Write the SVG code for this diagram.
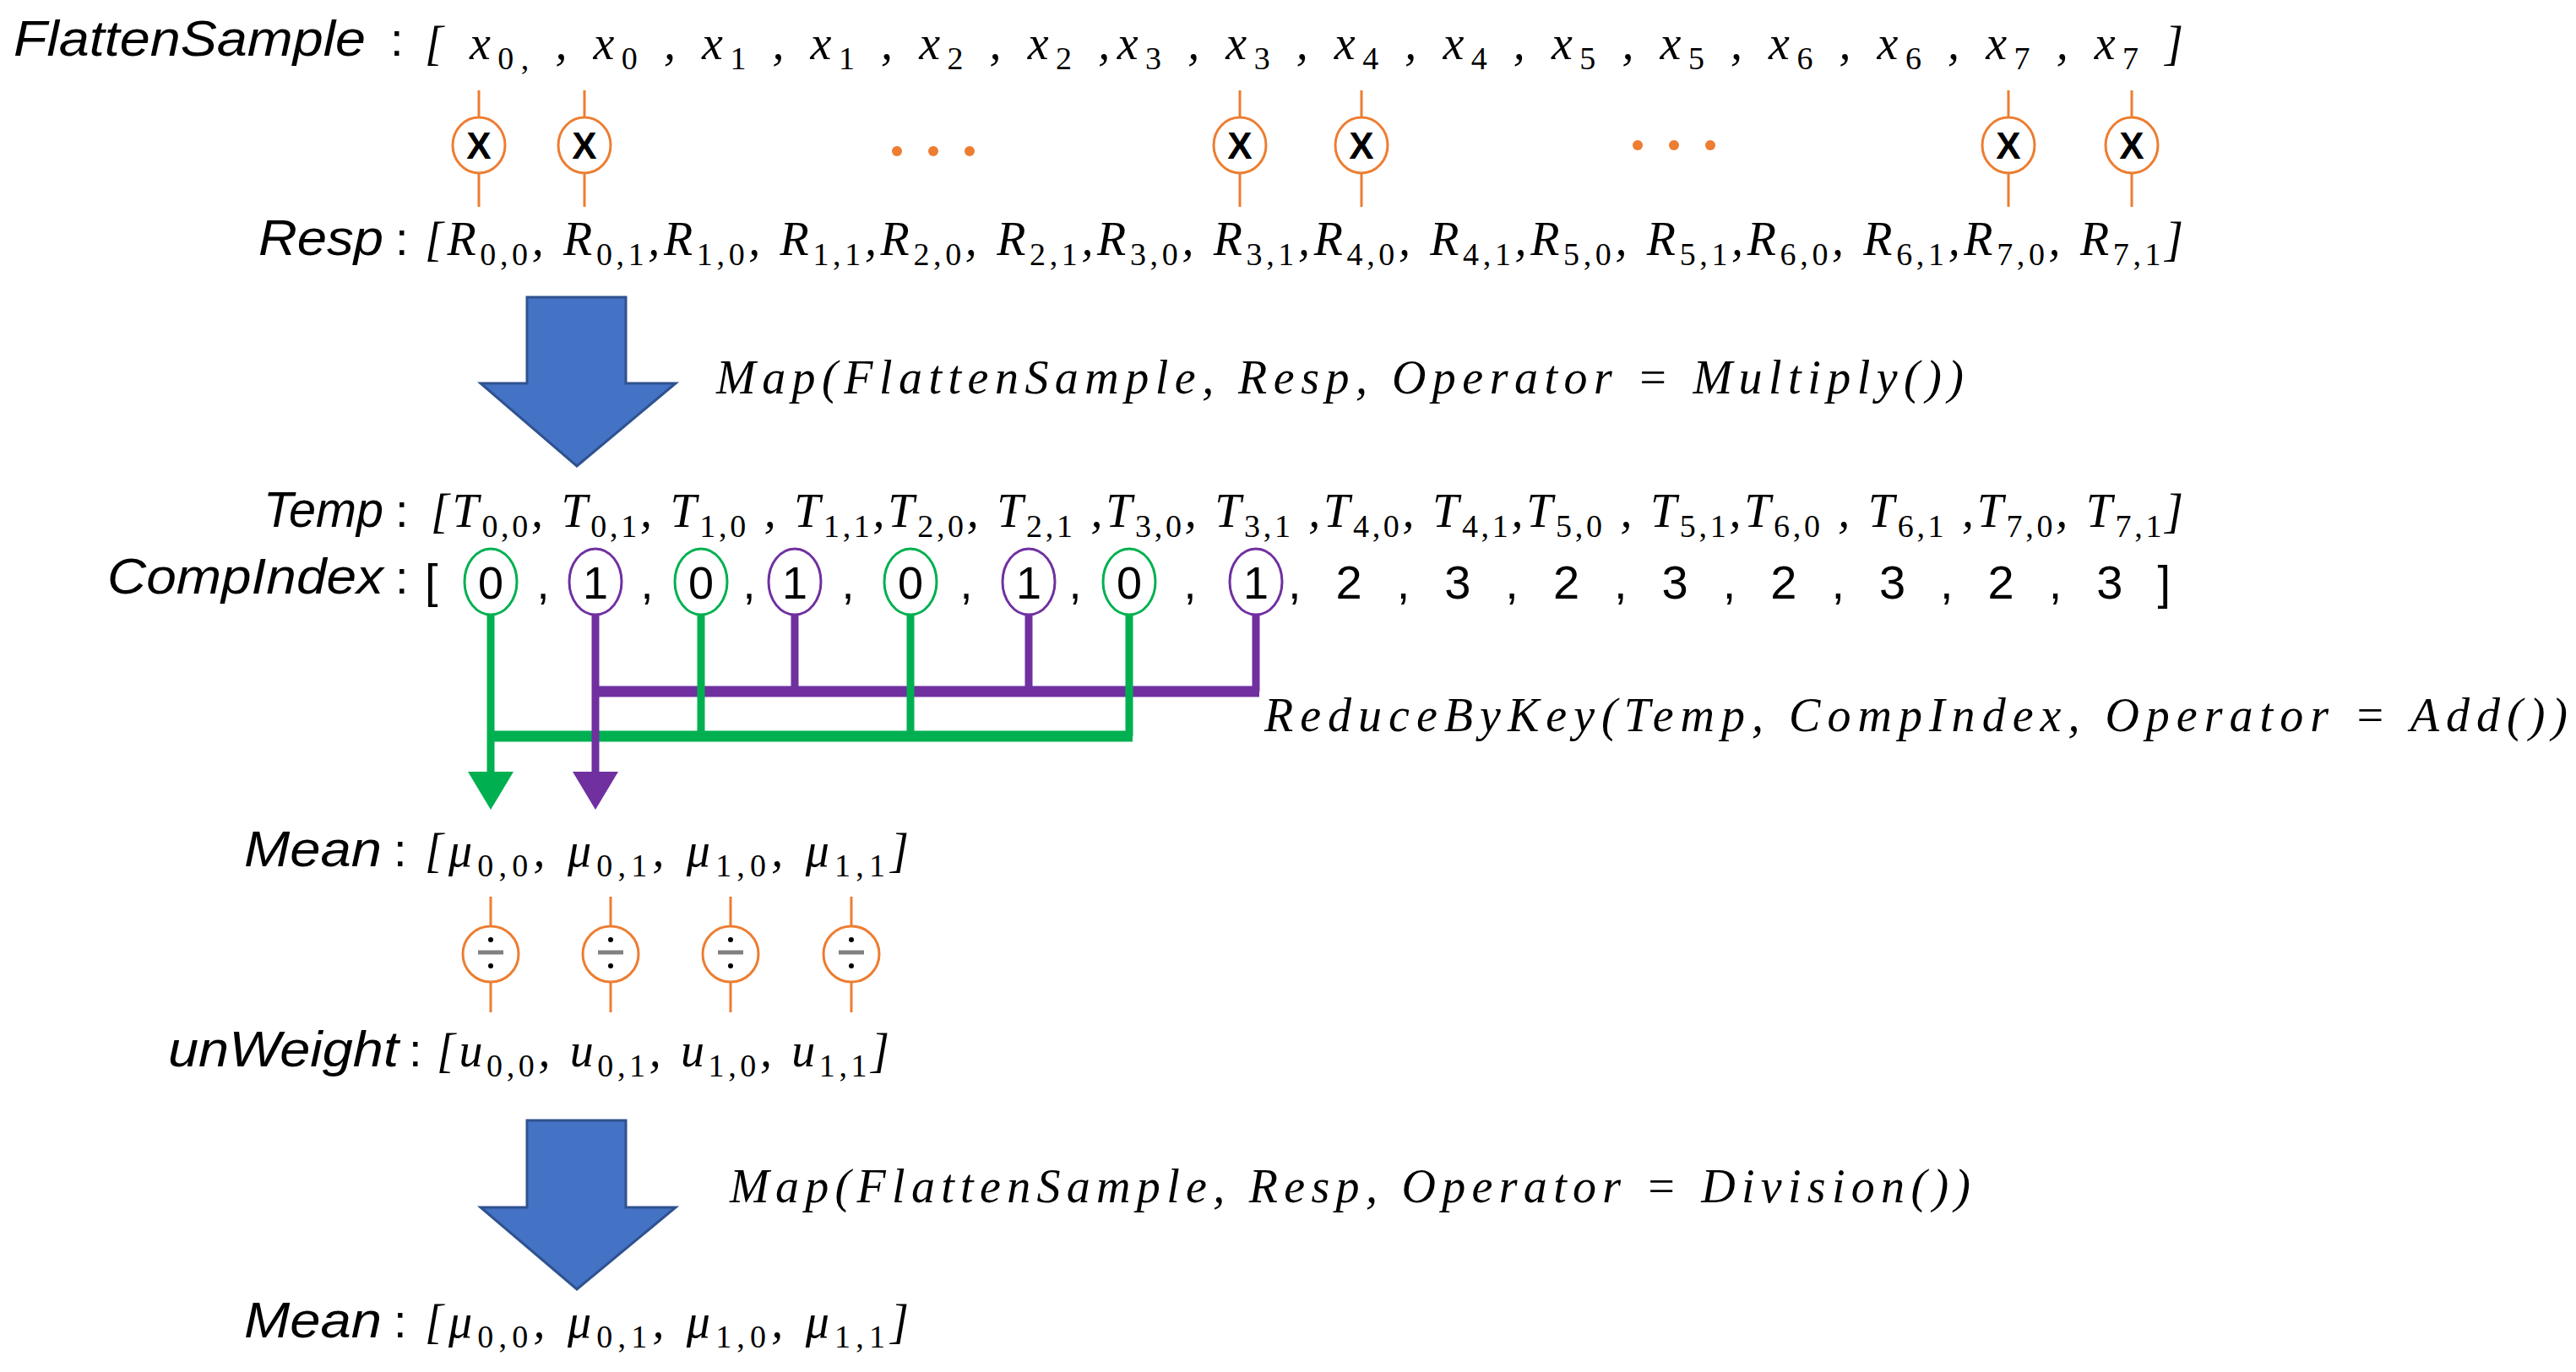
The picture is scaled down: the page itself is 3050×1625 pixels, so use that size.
<svg xmlns="http://www.w3.org/2000/svg" width="3050" height="1625" viewBox="0 0 3050 1625">
<style>
.lab{font-family:"Liberation Sans",Arial,sans-serif;font-style:italic;font-size:60px;fill:#000}
.col{font-family:"Liberation Sans",Arial,sans-serif;font-size:56px;fill:#000}
.m{font-family:"Liberation Serif","DejaVu Serif",serif;font-style:italic;font-size:56px;fill:#000}
.s{font-size:38px;font-style:normal}
.op{fill:#fff;stroke:#ED7D31;stroke-width:3}
.ol{stroke:#ED7D31;stroke-width:3}
.xo{font-family:"Liberation Sans",Arial,sans-serif;font-size:44px;font-weight:bold;text-anchor:middle}
.dig{font-family:"Liberation Sans",Arial,sans-serif;font-size:54px;text-anchor:middle}
.g{fill:none;stroke:#00B050}
.p{fill:none;stroke:#7030A0}
.dot{fill:#ED7D31}
.big{fill:#4472C4;stroke:#2F528F;stroke-width:3}
</style>
<defs>
<marker id="ag" markerWidth="5" markerHeight="6" refX="4" refY="3" orient="auto" markerUnits="strokeWidth"><path d="M0,0 L5,3 L0,6 z" fill="#00B050"/></marker>
<marker id="ap" markerWidth="5" markerHeight="6" refX="4" refY="3" orient="auto" markerUnits="strokeWidth"><path d="M0,0 L5,3 L0,6 z" fill="#7030A0"/></marker>
</defs>

<g id="flatten">
<text class="lab" x="16" y="66" textLength="417" lengthAdjust="spacingAndGlyphs">FlattenSample</text>
<text class="col" x="462" y="66">:</text>
<text class="m" x="503" y="70" textLength="2082" lengthAdjust="spacing">[ x<tspan class="s" dy="12">0,</tspan><tspan dy="-12"> , x</tspan><tspan class="s" dy="12">0</tspan><tspan dy="-12"> , x</tspan><tspan class="s" dy="12">1</tspan><tspan dy="-12"> , x</tspan><tspan class="s" dy="12">1</tspan><tspan dy="-12"> , x</tspan><tspan class="s" dy="12">2</tspan><tspan dy="-12"> , x</tspan><tspan class="s" dy="12">2</tspan><tspan dy="-12"> ,x</tspan><tspan class="s" dy="12">3</tspan><tspan dy="-12"> , x</tspan><tspan class="s" dy="12">3</tspan><tspan dy="-12"> , x</tspan><tspan class="s" dy="12">4</tspan><tspan dy="-12"> , x</tspan><tspan class="s" dy="12">4</tspan><tspan dy="-12"> , x</tspan><tspan class="s" dy="12">5</tspan><tspan dy="-12"> , x</tspan><tspan class="s" dy="12">5</tspan><tspan dy="-12"> , x</tspan><tspan class="s" dy="12">6</tspan><tspan dy="-12"> , x</tspan><tspan class="s" dy="12">6</tspan><tspan dy="-12"> , x</tspan><tspan class="s" dy="12">7</tspan><tspan dy="-12"> , x</tspan><tspan class="s" dy="12">7</tspan><tspan dy="-12"> ]</tspan></text>
</g>

<g id="multiply">
<g class="ol"><line x1="567" y1="107" x2="567" y2="245"/><line x1="692" y1="107" x2="692" y2="245"/><line x1="1468" y1="107" x2="1468" y2="245"/><line x1="1612" y1="107" x2="1612" y2="245"/><line x1="2378" y1="107" x2="2378" y2="245"/><line x1="2524" y1="107" x2="2524" y2="245"/></g>
<ellipse class="op" cx="567" cy="172" rx="31" ry="33"/><ellipse class="op" cx="692" cy="172" rx="31" ry="33"/><ellipse class="op" cx="1468" cy="172" rx="31" ry="33"/><ellipse class="op" cx="1612" cy="172" rx="31" ry="33"/><ellipse class="op" cx="2378" cy="172" rx="31" ry="33"/><ellipse class="op" cx="2524" cy="172" rx="31" ry="33"/>
<text class="xo" x="567" y="188">X</text><text class="xo" x="692" y="188">X</text><text class="xo" x="1468" y="188">X</text><text class="xo" x="1612" y="188">X</text><text class="xo" x="2378" y="188">X</text><text class="xo" x="2524" y="188">X</text>
<circle class="dot" cx="1062" cy="179" r="6"/><circle class="dot" cx="1105" cy="179" r="6"/><circle class="dot" cx="1148" cy="179" r="6"/>
<circle class="dot" cx="1939" cy="172" r="6"/><circle class="dot" cx="1982" cy="172" r="6"/><circle class="dot" cx="2025" cy="172" r="6"/>
</g>

<g id="resp">
<text class="lab" x="306" y="302" textLength="148" lengthAdjust="spacingAndGlyphs">Resp</text>
<text class="col" x="468" y="302">:</text>
<text class="m" x="503" y="302" textLength="2082" lengthAdjust="spacing">[R<tspan class="s" dy="12">0,0</tspan><tspan dy="-12">, R</tspan><tspan class="s" dy="12">0,1</tspan><tspan dy="-12">,R</tspan><tspan class="s" dy="12">1,0</tspan><tspan dy="-12">, R</tspan><tspan class="s" dy="12">1,1</tspan><tspan dy="-12">,R</tspan><tspan class="s" dy="12">2,0</tspan><tspan dy="-12">, R</tspan><tspan class="s" dy="12">2,1</tspan><tspan dy="-12">,R</tspan><tspan class="s" dy="12">3,0</tspan><tspan dy="-12">, R</tspan><tspan class="s" dy="12">3,1</tspan><tspan dy="-12">,R</tspan><tspan class="s" dy="12">4,0</tspan><tspan dy="-12">, R</tspan><tspan class="s" dy="12">4,1</tspan><tspan dy="-12">,R</tspan><tspan class="s" dy="12">5,0</tspan><tspan dy="-12">, R</tspan><tspan class="s" dy="12">5,1</tspan><tspan dy="-12">,R</tspan><tspan class="s" dy="12">6,0</tspan><tspan dy="-12">, R</tspan><tspan class="s" dy="12">6,1</tspan><tspan dy="-12">,R</tspan><tspan class="s" dy="12">7,0</tspan><tspan dy="-12">, R</tspan><tspan class="s" dy="12">7,1</tspan><tspan dy="-12">]</tspan></text>
</g>

<g id="map1">
<path class="big" d="M624,352 H741 V454 H800 L683,552 L569,454 H624 Z"/>
<text class="m" x="848" y="466" textLength="1477" lengthAdjust="spacing">Map(FlattenSample, Resp, Operator = Multiply())</text>
</g>

<g id="temp">
<text class="lab" x="312" y="624" textLength="142" lengthAdjust="spacingAndGlyphs">Temp</text>
<text class="col" x="468" y="624">:</text>
<text class="m" x="510" y="624" textLength="2075" lengthAdjust="spacing">[T<tspan class="s" dy="12">0,0</tspan><tspan dy="-12">, T</tspan><tspan class="s" dy="12">0,1</tspan><tspan dy="-12">, T</tspan><tspan class="s" dy="12">1,0</tspan><tspan dy="-12"> , T</tspan><tspan class="s" dy="12">1,1</tspan><tspan dy="-12">,T</tspan><tspan class="s" dy="12">2,0</tspan><tspan dy="-12">, T</tspan><tspan class="s" dy="12">2,1</tspan><tspan dy="-12"> ,T</tspan><tspan class="s" dy="12">3,0</tspan><tspan dy="-12">, T</tspan><tspan class="s" dy="12">3,1</tspan><tspan dy="-12"> ,T</tspan><tspan class="s" dy="12">4,0</tspan><tspan dy="-12">,  T</tspan><tspan class="s" dy="12">4,1</tspan><tspan dy="-12">,T</tspan><tspan class="s" dy="12">5,0</tspan><tspan dy="-12"> , T</tspan><tspan class="s" dy="12">5,1</tspan><tspan dy="-12">,T</tspan><tspan class="s" dy="12">6,0</tspan><tspan dy="-12"> , T</tspan><tspan class="s" dy="12">6,1</tspan><tspan dy="-12"> ,T</tspan><tspan class="s" dy="12">7,0</tspan><tspan dy="-12">, T</tspan><tspan class="s" dy="12">7,1</tspan><tspan dy="-12">]</tspan></text>
</g>

<g id="connectors">
<g class="p" stroke-width="9">
<line x1="941" y1="728" x2="941" y2="819"/><line x1="1218" y1="728" x2="1218" y2="819"/><line x1="1487" y1="728" x2="1487" y2="819"/>
</g>
<line class="p" x1="701" y1="819" x2="1491" y2="819" stroke-width="13"/>
<g class="g" stroke-width="9">
<line x1="830" y1="728" x2="830" y2="872"/><line x1="1078" y1="728" x2="1078" y2="872"/><line x1="1337" y1="728" x2="1337" y2="872"/>
</g>
<line class="g" x1="577" y1="872" x2="1341" y2="872" stroke-width="13"/>
<line class="g" x1="581" y1="728" x2="581" y2="950" stroke-width="9" marker-end="url(#ag)"/>
<line class="p" x1="705" y1="728" x2="705" y2="950" stroke-width="9" marker-end="url(#ap)"/>
</g>

<g id="compindex">
<text class="lab" x="127" y="703" textLength="327" lengthAdjust="spacingAndGlyphs">CompIndex</text>
<text class="col" x="468" y="703">:</text>
<text class="col" x="503" y="707">[</text>
<g fill="none" stroke-width="3">
<ellipse cx="581" cy="689" rx="31" ry="39" stroke="#00B050"/><ellipse cx="830" cy="689" rx="31" ry="39" stroke="#00B050"/><ellipse cx="1078" cy="689" rx="31" ry="39" stroke="#00B050"/><ellipse cx="1337" cy="689" rx="31" ry="39" stroke="#00B050"/>
<ellipse cx="705" cy="689" rx="31" ry="39" stroke="#7030A0"/><ellipse cx="941" cy="689" rx="31" ry="39" stroke="#7030A0"/><ellipse cx="1218" cy="689" rx="31" ry="39" stroke="#7030A0"/><ellipse cx="1487" cy="689" rx="31" ry="39" stroke="#7030A0"/>
</g>
<text class="dig" x="581" y="709">0</text><text class="dig" x="705" y="709">1</text><text class="dig" x="830" y="709">0</text><text class="dig" x="941" y="709">1</text><text class="dig" x="1078" y="709">0</text><text class="dig" x="1218" y="709">1</text><text class="dig" x="1337" y="709">0</text><text class="dig" x="1487" y="709">1</text>
<text class="dig" x="643" y="709">,</text><text class="dig" x="766" y="709">,</text><text class="dig" x="887" y="709">,</text><text class="dig" x="1004" y="709">,</text><text class="dig" x="1144" y="709">,</text><text class="dig" x="1273" y="709">,</text><text class="dig" x="1409" y="709">,</text>
<text class="col" x="1525" y="709" textLength="1045" lengthAdjust="spacing">, 2 , 3 , 2 , 3 , 2 , 3 , 2 , 3 ]</text>
</g>

<g id="reduce">
<text class="m" x="1497" y="866" textLength="1543" lengthAdjust="spacing">ReduceByKey(Temp, CompIndex, Operator = Add())</text>
</g>

<g id="mean">
<text class="lab" x="289" y="1026" textLength="163" lengthAdjust="spacingAndGlyphs">Mean</text>
<text class="col" x="466" y="1026">:</text>
<text class="m" x="503" y="1026" textLength="573" lengthAdjust="spacing">[μ<tspan class="s" dy="12">0,0</tspan><tspan dy="-12">, μ</tspan><tspan class="s" dy="12">0,1</tspan><tspan dy="-12">, μ</tspan><tspan class="s" dy="12">1,0</tspan><tspan dy="-12">, μ</tspan><tspan class="s" dy="12">1,1</tspan><tspan dy="-12">]</tspan></text>
</g>

<g id="divide">
<g class="ol"><line x1="581" y1="1062" x2="581" y2="1199"/><line x1="723" y1="1062" x2="723" y2="1199"/><line x1="865" y1="1062" x2="865" y2="1199"/><line x1="1008" y1="1062" x2="1008" y2="1199"/></g>
<ellipse class="op" cx="581" cy="1130" rx="33" ry="33"/><ellipse class="op" cx="723" cy="1130" rx="33" ry="33"/><ellipse class="op" cx="865" cy="1130" rx="33" ry="33"/><ellipse class="op" cx="1008" cy="1130" rx="33" ry="33"/>
<g stroke="#808080" stroke-width="5"><line x1="566" y1="1128" x2="596" y2="1128"/><line x1="708" y1="1128" x2="738" y2="1128"/><line x1="850" y1="1128" x2="880" y2="1128"/><line x1="993" y1="1128" x2="1023" y2="1128"/></g>
<g fill="#000"><circle cx="581" cy="1113" r="3"/><circle cx="581" cy="1144" r="3"/><circle cx="723" cy="1113" r="3"/><circle cx="723" cy="1144" r="3"/><circle cx="865" cy="1113" r="3"/><circle cx="865" cy="1144" r="3"/><circle cx="1008" cy="1113" r="3"/><circle cx="1008" cy="1144" r="3"/></g>
</g>

<g id="unweight">
<text class="lab" x="199" y="1263" textLength="273" lengthAdjust="spacingAndGlyphs">unWeight</text>
<text class="col" x="484" y="1263">:</text>
<text class="m" x="517" y="1263" textLength="536" lengthAdjust="spacing">[u<tspan class="s" dy="12">0,0</tspan><tspan dy="-12">, u</tspan><tspan class="s" dy="12">0,1</tspan><tspan dy="-12">, u</tspan><tspan class="s" dy="12">1,0</tspan><tspan dy="-12">, u</tspan><tspan class="s" dy="12">1,1</tspan><tspan dy="-12">]</tspan></text>
</g>

<g id="map2">
<path class="big" d="M624,1327 H741 V1430 H800 L683,1527 L569,1430 H624 Z"/>
<text class="m" x="864" y="1424" textLength="1469" lengthAdjust="spacing">Map(FlattenSample, Resp, Operator = Division())</text>
</g>

<g id="mean2">
<text class="lab" x="289" y="1584" textLength="163" lengthAdjust="spacingAndGlyphs">Mean</text>
<text class="col" x="466" y="1584">:</text>
<text class="m" x="503" y="1584" textLength="573" lengthAdjust="spacing">[μ<tspan class="s" dy="12">0,0</tspan><tspan dy="-12">, μ</tspan><tspan class="s" dy="12">0,1</tspan><tspan dy="-12">, μ</tspan><tspan class="s" dy="12">1,0</tspan><tspan dy="-12">, μ</tspan><tspan class="s" dy="12">1,1</tspan><tspan dy="-12">]</tspan></text>
</g>
</svg>
